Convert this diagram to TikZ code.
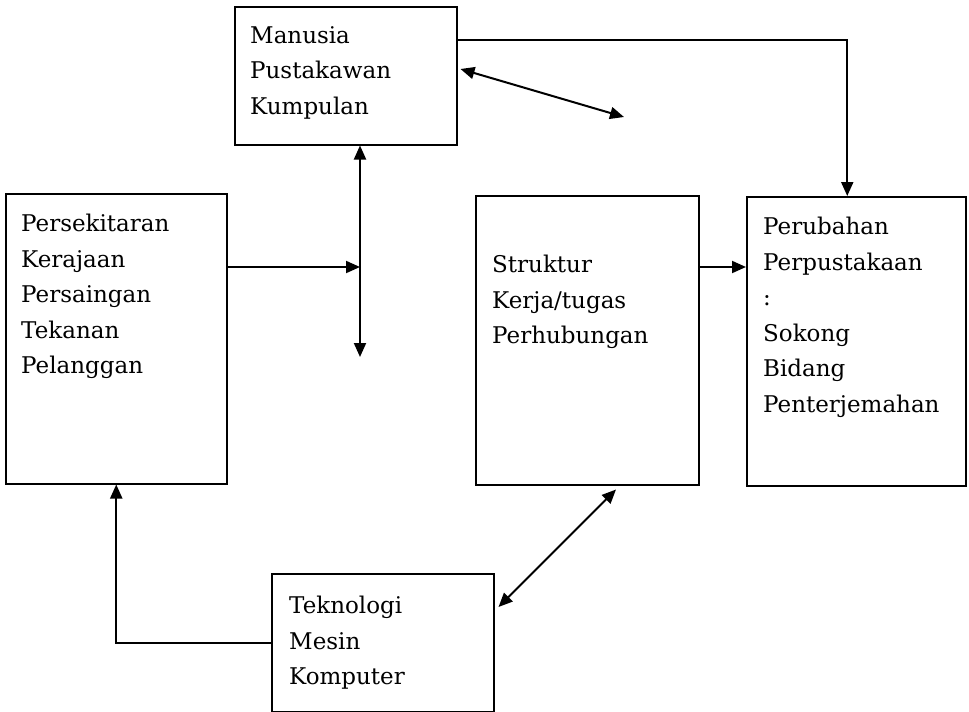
\documentclass[tikz,border=0pt]{standalone}
\usepackage{fontspec}
\setmainfont{DejaVu Serif}
\usetikzlibrary{arrows.meta,calc}
\begin{document}
\begin{tikzpicture}[x=1pt,y=-1pt,
  box/.style={draw=black, line width=1.5pt, inner sep=0pt, minimum width=#1},
  lbl/.style={anchor=north west, inner sep=0pt, align=left, font=\fontsize{23}{35.5}\selectfont},
  conn/.style={draw=black, line width=2pt},
  tip/.style={-{Triangle[length=14pt,width=12pt]}},
  tips/.style={{Triangle[length=14pt,width=12pt]}-{Triangle[length=14pt,width=12pt]}}]
\useasboundingbox (0,0) rectangle (969,712);
\fill[white] (0,0) rectangle (969,712);
% boxes
\node[box=222pt, minimum height=138pt, anchor=north west] (man) at (234,6) {};
\node[box=221pt, minimum height=290pt, anchor=north west] (pk) at (5,193) {};
\node[box=223pt, minimum height=289pt, anchor=north west] (st) at (475,195) {};
\node[box=219pt, minimum height=289pt, anchor=north west] (per) at (746,196) {};
\node[box=222pt, minimum height=138pt, anchor=north west] (tek) at (271,573) {};
% texts
\node[lbl] (tman) at (250,26) {Manusia\\Pustakawan\\Kumpulan};
\node[lbl] (tpk) at (21,214) {Persekitaran\\Kerajaan\\Persaingan\\Tekanan\\Pelanggan};
\node[lbl] (tst) at (492,255) {Struktur\\Kerja/tugas\\Perhubungan};
\node[lbl] (tper) at (763,217) {Perubahan\\Perpustakaan\\:\\Sokong\\Bidang\\Penterjemahan};
\node[lbl] (ttek) at (289,596) {Teknologi\\Mesin\\Komputer};
% free ends
\coordinate (d1) at (624,117);
\coordinate (v1) at (360,357);
\coordinate (j) at (360,267);
% connectors
\draw[conn, tip] (man.north east) ++(0,34) -| ($(per.north)+(-9,0)$);
\draw[conn, tips] ($(man.north east)+(3,63)$) -- (d1);
\draw[conn, tips] ($(man.south west)+(126,0)$) -- (v1);
\draw[conn, tip] ($(pk.north east)+(0,74)$) -- (j);
\draw[conn, tip] ($(st.north east)+(0,72)$) -- ($(per.north west)+(0,71)$);
\draw[conn, tips] ($(st.south west)+(141,4)$) -- ($(tek.north east)+(4,34)$);
\draw[conn, tip] (tek.west) -| (pk.south);
\end{tikzpicture}
\end{document}
